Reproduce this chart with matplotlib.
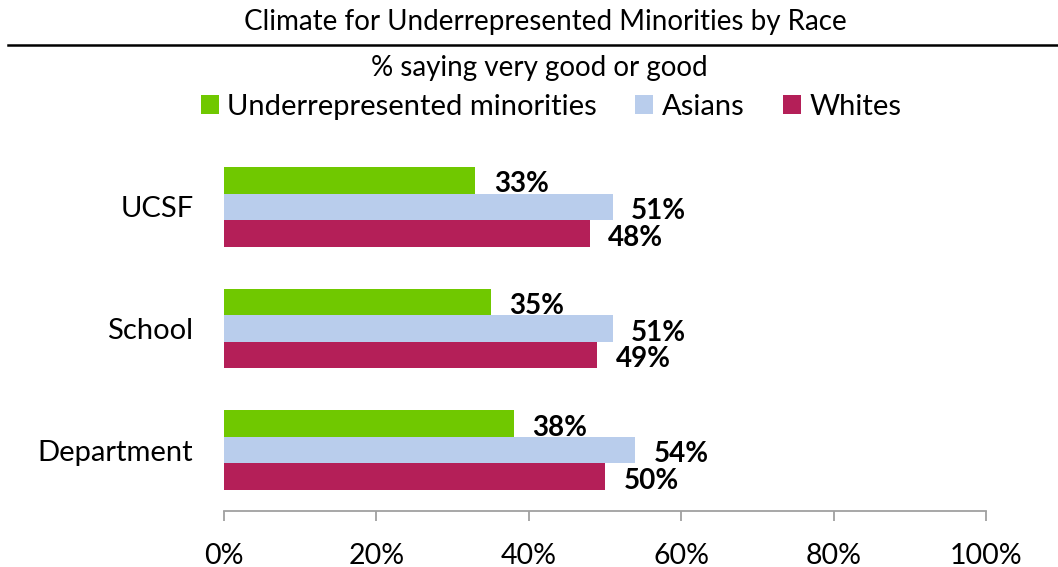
import matplotlib
matplotlib.use("Agg")
import matplotlib.pyplot as plt
from matplotlib.patches import Patch
from matplotlib.lines import Line2D

categories = ["UCSF", "School", "Department"]
series_names = ["Underrepresented minorities", "Asians", "Whites"]
urm = [33, 35, 38]
asians = [51, 51, 54]
whites = [48, 49, 50]
xticks = [0, 20, 40, 60, 80, 100]
xtick_labels = ["0%", "20%", "40%", "60%", "80%", "100%"]
title = "Climate for Underrepresented Minorities by Race"
subtitle = "% saying very good or good"

colors = ["#70C800", "#B9CDEC", "#B41F58"]
FONT = "Lato"
plt.rcParams["font.family"] = [FONT, "DejaVu Sans"]

W, H = 1058, 567
fig = plt.figure(figsize=(W / 100, H / 100), dpi=100)
ax = fig.add_axes([224 / W, 1 - 511 / H, 762 / W, 365 / H])

bh = 0.219
ypos = [2, 1, 0]
series = [urm, asians, whites]
for i, (vals, c) in enumerate(zip(series, colors)):
    ys = [y + (1 - i) * bh for y in ypos]
    ax.barh(ys, vals, height=bh, color=c, edgecolor="none")
    for y, v in zip(ys, vals):
        ax.annotate(f"{v}%", (v + 2.4, y), xytext=(0, -3), textcoords="offset points",
                    va="center", ha="left", fontsize=20, fontweight="bold", color="black")

ax.set_xlim(0, 100)
ax.set_ylim(-0.5, 2.5)
ax.set_yticks(ypos)
ax.set_yticklabels(categories, fontsize=21)
ax.set_xticks(xticks)
ax.set_xticklabels(xtick_labels, fontsize=20.5)
ax.tick_params(axis="y", length=0, pad=22)
ax.tick_params(axis="x", direction="out", length=7, width=1.3, color="#A0A0A0", pad=16)
for s in ["top", "right", "left"]:
    ax.spines[s].set_visible(False)
ax.spines["bottom"].set_color("#A0A0A0")
ax.spines["bottom"].set_linewidth(1.3)

fig.text(545 / W, 1 - 22 / H, title, ha="center", va="center", fontsize=20)
fig.add_artist(Line2D([8 / W, 1.0], [1 - 45 / H, 1 - 45 / H], color="black", lw=1.8,
                      transform=fig.transFigure))
fig.text(539 / W, 1 - 68 / H, subtitle, ha="center", va="center", fontsize=20)

handles = [Patch(facecolor=c, edgecolor="none") for c in colors]
fig.legend(handles, series_names, loc="center", bbox_to_anchor=(551 / W, 1 - 107 / H),
           ncol=3, frameon=False, fontsize=21, handlelength=0.62, handleheight=0.62,
           handletextpad=0.3, columnspacing=1.3, borderpad=0, borderaxespad=0)

fig.savefig("out.png", dpi=100)
